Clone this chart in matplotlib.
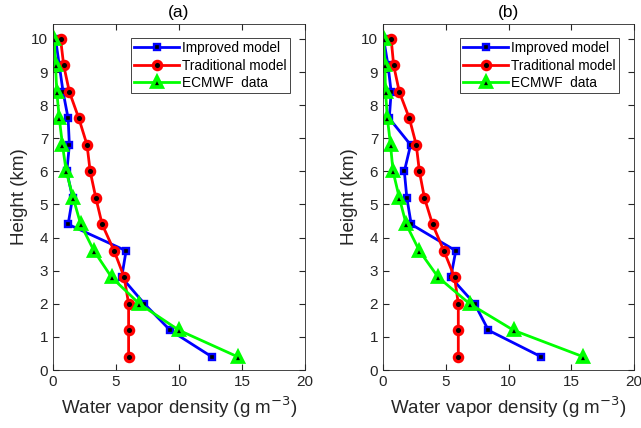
import matplotlib
matplotlib.use('Agg')
import matplotlib.pyplot as plt

plt.rcParams['font.family'] = ['Liberation Sans', 'DejaVu Sans']

heights = [0.4, 1.2, 2.0, 2.8, 3.6, 4.4, 5.2, 6.0, 6.8, 7.6, 8.4, 9.2, 10.0]

# panel (a)
improved_a = [12.6, 9.3, 7.25, 5.45, 5.8, 1.2, 1.55, 1.1, 1.3, 1.2, 0.8, 0.5, 0.2]
traditional_a = [6.0, 6.0, 6.0, 5.65, 4.85, 3.9, 3.4, 2.95, 2.7, 2.05, 1.3, 0.85, 0.6]
ecmwf_a = [14.65, 10.0, 6.85, 4.65, 3.25, 2.2, 1.6, 1.05, 0.75, 0.5, 0.3, 0.2, 0.1]

# panel (b)
improved_b = [12.6, 8.4, 7.3, 5.4, 5.8, 2.25, 1.9, 1.7, 2.2, 0.5, 0.65, 0.4, 0.05]
traditional_b = [6.0, 6.0, 6.0, 5.7, 4.85, 3.95, 3.3, 2.9, 2.65, 2.1, 1.3, 0.85, 0.65]
ecmwf_b = [15.95, 10.4, 6.9, 4.4, 2.9, 1.85, 1.3, 0.8, 0.6, 0.35, 0.2, 0.15, 0.05]

titles = ['(a)', '(b)']
series_names = ['Improved model', 'Traditional model', 'ECMWF  data']
x_ticks = [0, 5, 10, 15, 20]
y_ticks = list(range(0, 11))

fig = plt.figure(figsize=(6.41, 4.28), dpi=100)
W, H = 641, 428
ax_a = fig.add_axes([53 / W, 1 - 370 / H, 252 / W, 346 / H])
ax_b = fig.add_axes([383 / W, 1 - 370 / H, 251 / W, 346 / H])

panels = [(ax_a, improved_a, traditional_a, ecmwf_a),
          (ax_b, improved_b, traditional_b, ecmwf_b)]

for i, (ax, imp, trad, ecm) in enumerate(panels):
    ax.plot(imp, heights, color='#0000ff', lw=2, marker='s', ms=5,
            mfc='k', mec='#0000ff', mew=1.7, label=series_names[0])
    ax.plot(trad, heights, color='#ff0000', lw=2, marker='o', ms=6,
            mfc='k', mec='#ff0000', mew=2.3, label=series_names[1])
    ax.plot(ecm, heights, color='#00ff00', lw=2, marker='^', ms=7,
            mfc='k', mec='#00ff00', mew=2.7, label=series_names[2])

    ax.set_xlim(0, 20)
    ax.set_ylim(0, 10.45)
    ax.set_xticks(x_ticks)
    ax.set_yticks(y_ticks)
    ax.tick_params(direction='in', top=True, right=True, labelsize=11,
                   colors='#262626', length=4)
    for s in ax.spines.values():
        s.set_color('#262626')
        s.set_linewidth(0.6)
    ax.set_title(titles[i], fontsize=12.5, pad=5)
    ax.set_xlabel('Water vapor density (g m$^{-3}$)', fontsize=13.5, color='#262626')
    ax.set_ylabel('Height (km)', fontsize=13.5, color='#262626', labelpad=2)

    leg = ax.legend(loc='upper right', bbox_to_anchor=(0.94, 0.96), fontsize=9.8,
                    fancybox=False, edgecolor='#262626', framealpha=1,
                    handlelength=3.3, borderpad=0.25, labelspacing=0.25,
                    handletextpad=0.2, borderaxespad=0)
    leg.get_frame().set_linewidth(0.6)

fig.savefig('out.png', dpi=100)
